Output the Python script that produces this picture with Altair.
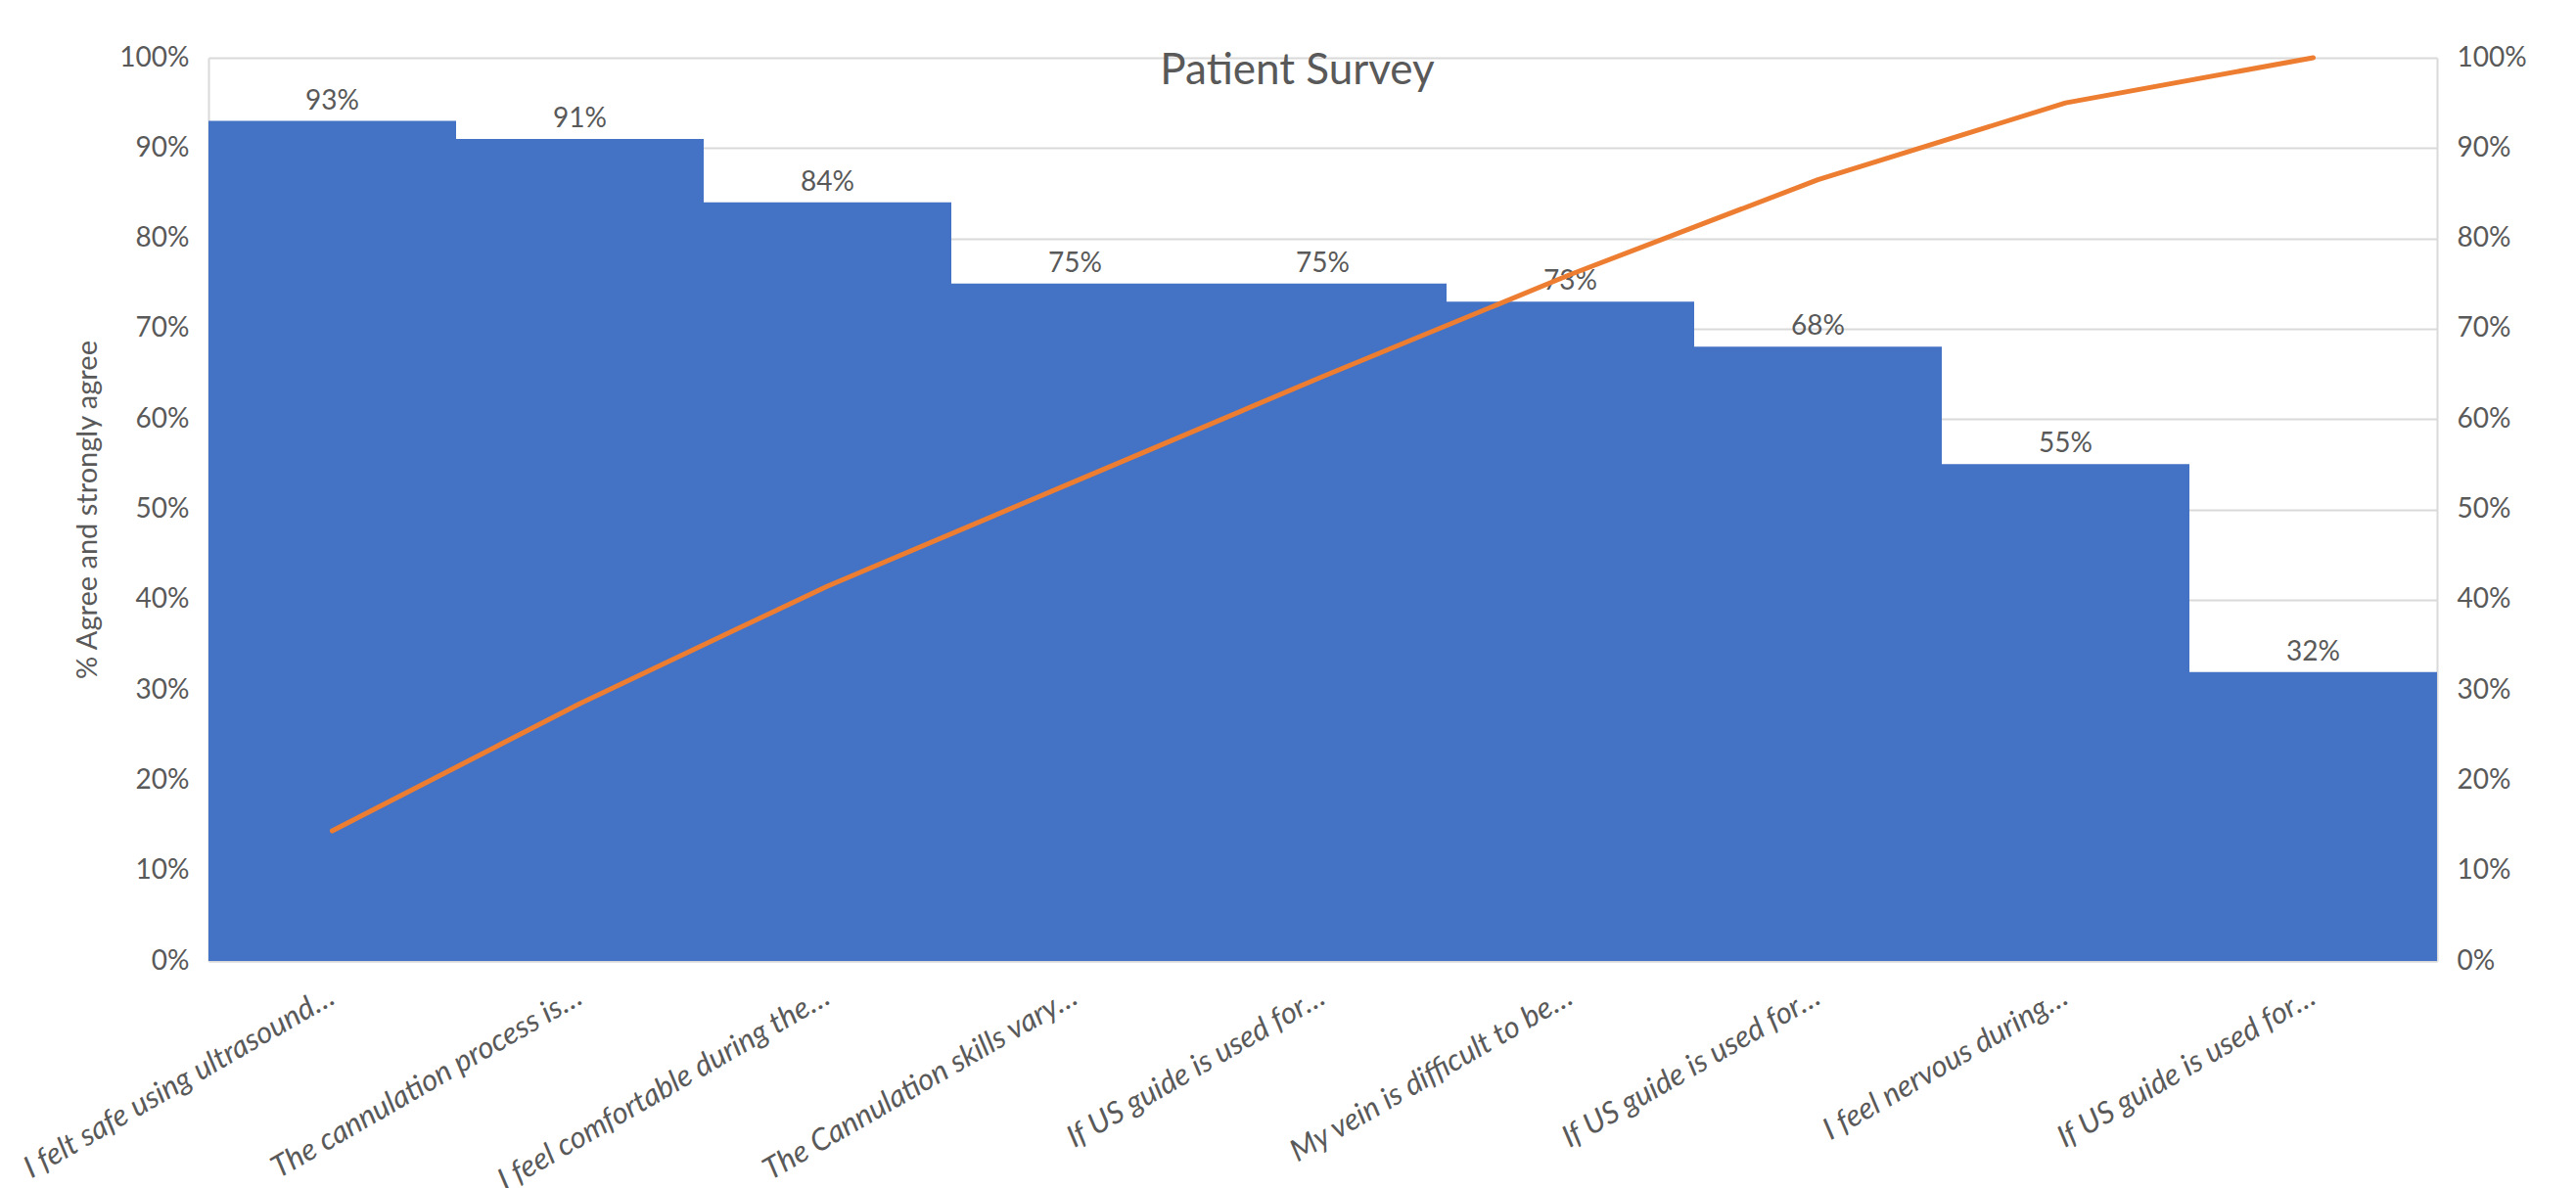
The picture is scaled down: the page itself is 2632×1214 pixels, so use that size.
import json
import altair as alt
import pandas as pd

# ---- data ----
labels = [
    "I felt safe using ultrasound…",
    "The cannulation process is…",
    "I feel comfortable during the…",
    "The Cannulation skills vary…",
    "If US guide is used for…",
    "My vein is difficult to be…",
    "If US guide is used for…",
    "I feel nervous during…",
    "If US guide is used for…",
]
agree = [0.93, 0.91, 0.84, 0.75, 0.75, 0.73, 0.68, 0.55, 0.32]
cumulative = [0.144, 0.285, 0.415, 0.531, 0.647, 0.760, 0.865, 0.950, 1.000]
y_ticks = [0, 0.1, 0.2, 0.3, 0.4, 0.5, 0.6, 0.7, 0.8, 0.9, 1.0]

df = pd.DataFrame({
    "idx": list(range(len(labels))),
    "label": labels,
    "agree": agree,
    "cum": cumulative,
})

FONT = "Lato"
TXT = "#595959"
GRID = "#d9d9d9"
W, H = 2277, 923

label_expr = json.dumps(labels) + "[datum.value]"

x_enc = alt.X(
    "idx:O",
    scale=alt.Scale(paddingInner=0, paddingOuter=0),
    axis=alt.Axis(
        title=None,
        labelExpr=label_expr,
        labelAngle=330,
        labelAlign="right",
        labelBaseline="middle",
        labelPadding=34,
        labelFont=FONT,
        labelFontStyle="italic",
        labelFontSize=31,
        labelColor=TXT,
        labelLimit=2000,
        labelOverlap=False,
        ticks=False,
        domainColor=GRID,
        domainWidth=2,
    ),
)

y_left = alt.Y(
    "agree:Q",
    scale=alt.Scale(domain=[0, 1]),
    axis=alt.Axis(
        values=y_ticks,
        format=".0%",
        title="% Agree and strongly agree",
        titleFont=FONT,
        titleFontSize=29,
        titleFontWeight="normal",
        titleColor=TXT,
        titleAngle=270,
        titleAlign="center",
        titleBaseline="middle",
        titleX=-124,
        titleY=H / 2,
        labelFont=FONT,
        labelFontSize=28,
        labelColor=TXT,
        labelPadding=20,
        ticks=False,
        grid=True,
        gridColor=GRID,
        gridWidth=2,
        domainColor=GRID,
        domainWidth=2,
    ),
)

bars = alt.Chart(df).mark_bar(color="#4472C4").encode(x=x_enc, y=y_left)

text = alt.Chart(df).mark_text(
    font=FONT, fontSize=28, color=TXT, baseline="bottom", dy=-6
).encode(
    x=x_enc,
    y=alt.Y("agree:Q", scale=alt.Scale(domain=[0, 1])),
    text=alt.Text("agree:Q", format=".0%"),
)

line = alt.Chart(df).mark_line(
    color="#ED7D31", strokeWidth=5, strokeCap="round", strokeJoin="round"
).encode(
    x=x_enc,
    y=alt.Y(
        "cum:Q",
        scale=alt.Scale(domain=[0, 1]),
        axis=alt.Axis(
            orient="right",
            values=y_ticks,
            format=".0%",
            title=None,
            labelFont=FONT,
            labelFontSize=28,
            labelColor=TXT,
            labelPadding=20,
            ticks=False,
            grid=False,
            domainColor=GRID,
            domainWidth=2,
        ),
    ),
)

chart = (
    alt.layer(alt.layer(bars, text), line)
    .resolve_scale(y="independent")
    .properties(
        width=W,
        height=H,
        autosize=alt.AutoSizeParams(type="none"),
        padding={"left": 213, "top": 59, "right": 142, "bottom": 232},
        background="white",
        title=alt.TitleParams(
            "Patient Survey",
            font=FONT,
            fontSize=44,
            fontWeight="normal",
            color=TXT,
            anchor="middle",
            baseline="alphabetic",
            dx=-26,
            dy=60,
            offset=-25,
        ),
    )
    .configure_view(strokeWidth=0)
)

chart.save("out.html", embed_options={"renderer": "svg", "actions": False})
